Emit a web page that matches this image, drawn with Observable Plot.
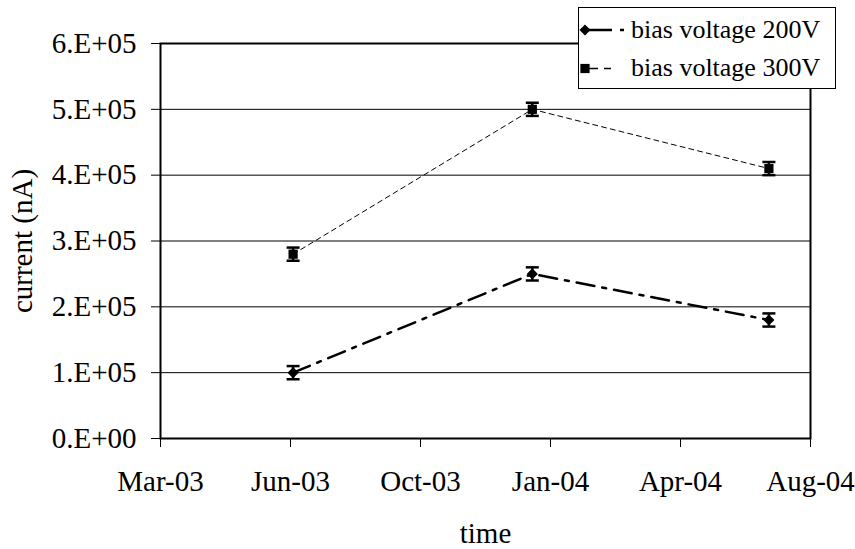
<!DOCTYPE html>
<html>
<head>
<meta charset="utf-8">
<script src="https://cdn.jsdelivr.net/npm/d3@7"></script>
<script src="https://cdn.jsdelivr.net/npm/@observablehq/plot@0.6"></script>
<style>
  html, body { margin: 0; padding: 0; background: #fff; }
  #chart { position: relative; width: 855px; height: 549px; font-family: "Liberation Serif", "Times New Roman", serif; }
  #legend { position: absolute; left: 578px; top: 7px; }
</style>
</head>
<body>
<div id="chart"></div>
<script>
// Measurement dates and leakage current per bias voltage
const dates = ["2003-07-01", "2004-01-01", "2004-07-01"];
const seriesNames = ["bias voltage 200V", "bias voltage 300V"];
const current200 = [1.0e5, 2.5e5, 1.8e5];
const current300 = [2.8e5, 5.0e5, 4.1e5];
const errorHalf = [1e4, 1e4, 1e4];

// Axis ticks (date axis with a 100-day major unit)
const xTickDates = ["2003-03-21", "2003-06-29", "2003-10-07", "2004-01-15", "2004-04-24", "2004-08-02"];
const yTicks = [0, 1e5, 2e5, 3e5, 4e5, 5e5, 6e5];
const gridValues = [1e5, 2e5, 3e5, 4e5, 5e5];

const toRows = (values, name) => dates.map((d, i) => ({
  date: new Date(d), value: values[i], err: errorHalf[i], series: name
}));
const rows200 = toRows(current200, seriesNames[0]);
const rows300 = toRows(current300, seriesNames[1]);
const allRows = rows200.concat(rows300);
const xTicks = xTickDates.map(d => new Date(d));

// "0.E+00" style scientific labels
function sciLabel(v) {
  if (v === 0) return "0.E+00";
  const e = Math.floor(Math.log10(Math.abs(v)));
  const m = Math.round(v / Math.pow(10, e));
  return `${m}.E+${String(e).padStart(2, "0")}`;
}

// horizontal cap for error bars; half-width equals the dot radius
const capSymbol = {
  draw(context, size) {
    const w = Math.sqrt(size / Math.PI);
    context.moveTo(-w, 0);
    context.lineTo(w, 0);
  }
};

const dash200 = "18,8,4,8";
const dash300 = "5,4";
const serif = '"Liberation Serif", "Times New Roman", serif';

const chart = Plot.plot({
  width: 855,
  height: 549,
  marginLeft: 160,
  marginRight: 45,
  marginTop: 43,
  marginBottom: 111,
  style: { fontFamily: serif, fontSize: "29px", color: "black", background: "white", overflow: "visible" },
  x: { type: "utc", domain: [xTicks[0], xTicks[xTicks.length - 1]] },
  y: { domain: [0, 6e5] },
  marks: [
    Plot.ruleY(gridValues, { stroke: "black", strokeWidth: 1 }),
    Plot.frame({ stroke: "black", strokeWidth: 2 }),
    Plot.axisX({ ticks: xTicks, tickFormat: d3.utcFormat("%b-%y"), tickSize: 9, tickPadding: 23, label: null, fontSize: 29 }),
    Plot.axisY({ ticks: yTicks, tickFormat: sciLabel, tickSize: 9, tickPadding: 15, label: null, fontSize: 29 }),
    Plot.text(["current (nA)"], { frameAnchor: "left", dx: -138, rotate: -90, textAnchor: "middle", lineAnchor: "middle", fontSize: 29 }),
    Plot.text(["time"], { frameAnchor: "bottom", dy: 95, textAnchor: "middle", lineAnchor: "middle", fontSize: 29 }),
    Plot.line(rows300, { x: "date", y: "value", stroke: "black", strokeWidth: 1, strokeDasharray: dash300 }),
    Plot.line(rows200, { x: "date", y: "value", stroke: "black", strokeWidth: 2.5, strokeDasharray: dash200 }),
    Plot.ruleX(allRows, { x: "date", y1: d => d.value - d.err, y2: d => d.value + d.err, stroke: "black", strokeWidth: 2.5 }),
    Plot.dot(allRows, { x: "date", y: d => d.value + d.err, symbol: capSymbol, r: 6.5, fill: "none", stroke: "black", strokeWidth: 2.5 }),
    Plot.dot(allRows, { x: "date", y: d => d.value - d.err, symbol: capSymbol, r: 6.5, fill: "none", stroke: "black", strokeWidth: 2.5 }),
    Plot.dot(rows200, { x: "date", y: "value", symbol: "diamond2", r: 5, fill: "black", stroke: "none" }),
    Plot.dot(rows300, { x: "date", y: "value", symbol: "square", r: 5.2, fill: "black", stroke: "none" })
  ]
});
document.getElementById("chart").appendChild(chart);

// Legend box in the upper right corner
const legend = d3.select("#chart").append("svg")
  .attr("id", "legend")
  .attr("width", 258).attr("height", 82);
legend.append("rect")
  .attr("x", 0.5).attr("y", 0.5).attr("width", 257).attr("height", 81)
  .attr("fill", "white").attr("stroke", "black").attr("stroke-width", 1);

const legendItems = [
  { name: seriesNames[0], symbol: d3.symbolDiamond2, size: 5 * 5 * Math.PI, dash: "27,8,4,100", width: 2.5, x2: 46, cy: 23 },
  { name: seriesNames[1], symbol: d3.symbolSquare, size: 5.2 * 5.2 * Math.PI, dash: "13,6,7,100", width: 1.5, x2: 34, cy: 61.5 }
];
const rowsG = legend.selectAll("g.item").data(legendItems).join("g")
  .attr("class", "item")
  .attr("transform", d => `translate(0,${d.cy})`);
rowsG.append("line")
  .attr("x1", 7).attr("x2", d => d.x2).attr("y1", 0).attr("y2", 0)
  .attr("stroke", "black").attr("stroke-width", d => d.width)
  .attr("stroke-dasharray", d => d.dash);
rowsG.append("path")
  .attr("transform", "translate(7,0)")
  .attr("d", d => d3.symbol(d.symbol, d.size)())
  .attr("fill", "black");
rowsG.append("text")
  .attr("x", 53).attr("y", 7.5)
  .attr("font-size", 26)
  .attr("font-family", serif)
  .attr("fill", "black")
  .text(d => d.name);
</script>
</body>
</html>
